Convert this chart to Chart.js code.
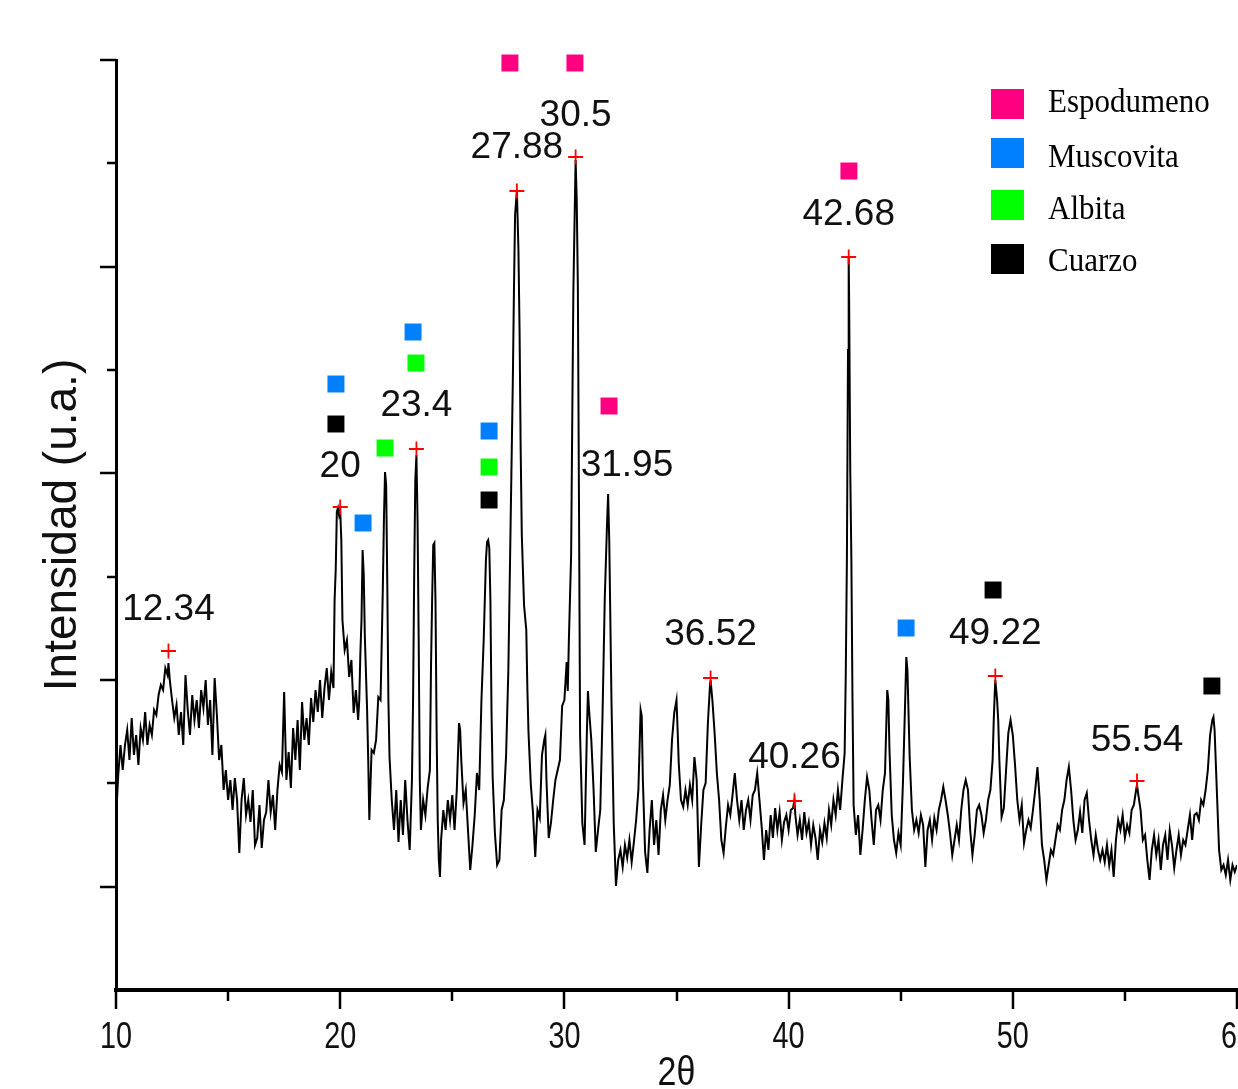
<!DOCTYPE html>
<html><head><meta charset="utf-8">
<script src="https://cdn.jsdelivr.net/npm/chart.js@4/dist/chart.umd.min.js"></script>
<style>
html,body{margin:0;padding:0;background:#fff;overflow:hidden;width:1238px;height:1089px}
#wrap{width:1300px;height:1089px}
canvas{display:block}
</style>
</head><body><div id="wrap"><canvas id="c" width="1300" height="1089"></canvas></div>
<script>
// ---- DATA ----
const twoTheta = [
10,10.1,10.2,10.3,10.4,10.5,10.6,10.7,10.8,10.9,
11,11.1,11.2,11.3,11.4,11.5,11.6,11.7,11.8,11.9,
12,12.1,12.2,12.3,12.34,12.4,12.5,12.6,12.7,12.8,12.9,
13,13.1,13.2,13.3,13.4,13.5,13.6,13.7,13.8,13.9,
14,14.1,14.2,14.3,14.4,14.5,14.6,14.7,14.8,14.9,
15,15.1,15.2,15.3,15.4,15.5,15.6,15.7,15.8,15.9,
16,16.1,16.2,16.3,16.4,16.5,16.6,16.7,16.8,16.9,
17,17.1,17.2,17.3,17.4,17.5,17.6,17.7,17.8,17.9,
18,18.1,18.2,18.3,18.4,18.5,18.6,18.7,18.8,18.9,
19,19.1,19.2,19.3,19.4,19.5,19.6,19.7,19.75,19.8,19.85,19.9,19.95,
20,20.05,20.1,20.2,20.3,20.4,20.5,20.6,20.7,20.8,20.85,20.9,20.95,
21,21.05,21.1,21.2,21.25,21.3,21.4,21.5,21.6,21.7,21.8,21.9,21.95,
22,22.05,22.1,22.15,22.2,22.3,22.4,22.5,22.6,22.7,22.8,22.9,
23,23.1,23.2,23.25,23.3,23.35,23.4,23.45,23.5,23.55,23.6,23.7,23.8,23.9,
24,24.05,24.1,24.15,24.2,24.25,24.3,24.35,24.4,24.45,24.5,24.6,24.7,24.8,24.9,
25,25.1,25.2,25.3,25.35,25.4,25.5,25.6,25.7,25.8,25.9,
26,26.1,26.2,26.3,26.4,26.5,26.55,26.6,26.65,26.7,26.75,26.8,26.9,
27,27.1,27.2,27.3,27.4,27.5,27.6,27.7,27.75,27.8,27.88,27.95,
28,28.05,28.1,28.2,28.3,28.35,28.4,28.5,28.6,28.7,28.8,28.9,
29,29.1,29.15,29.2,29.3,29.4,29.5,29.6,29.7,29.8,29.9,
30,30.1,30.15,30.2,30.3,30.35,30.4,30.5,30.55,30.6,30.65,30.7,30.8,30.9,
31,31.05,31.1,31.2,31.3,31.4,31.5,31.6,31.7,31.8,31.9,31.95,
32,32.1,32.2,32.3,32.4,32.5,32.6,32.7,32.8,32.9,
33,33.1,33.2,33.3,33.4,33.45,33.5,33.6,33.7,33.8,33.9,
34,34.1,34.2,34.3,34.4,34.5,34.6,34.7,34.8,34.9,
35,35.05,35.1,35.2,35.3,35.4,35.5,35.6,35.7,35.8,35.9,
36,36.1,36.2,36.3,36.4,36.5,36.52,36.6,36.7,36.8,36.9,
37,37.1,37.2,37.3,37.4,37.5,37.6,37.7,37.8,37.9,
38,38.1,38.2,38.3,38.4,38.5,38.6,38.7,38.8,38.9,
39,39.1,39.2,39.3,39.4,39.5,39.6,39.7,39.8,39.9,
40,40.1,40.2,40.26,40.3,40.4,40.5,40.6,40.7,40.8,40.9,
41,41.1,41.2,41.3,41.4,41.5,41.6,41.7,41.8,41.9,
42,42.1,42.2,42.3,42.4,42.5,42.55,42.6,42.65,42.68,42.7,42.75,42.8,42.85,42.9,
43,43.1,43.2,43.3,43.4,43.5,43.6,43.7,43.8,43.9,
44,44.1,44.2,44.3,44.4,44.45,44.5,44.6,44.7,44.8,44.9,
45,45.1,45.2,45.25,45.3,45.4,45.5,45.6,45.7,45.8,45.9,
46,46.1,46.2,46.3,46.4,46.5,46.6,46.7,46.8,46.9,
47,47.1,47.2,47.3,47.4,47.5,47.6,47.7,47.8,47.9,
48,48.1,48.2,48.3,48.4,48.5,48.6,48.7,48.8,48.9,
49,49.1,49.15,49.2,49.22,49.3,49.35,49.4,49.5,49.6,49.7,49.8,49.9,
50,50.1,50.2,50.3,50.4,50.5,50.6,50.7,50.8,50.9,
51,51.1,51.2,51.3,51.4,51.5,51.6,51.7,51.8,51.9,
52,52.1,52.2,52.3,52.4,52.5,52.6,52.7,52.8,52.9,
53,53.1,53.2,53.3,53.4,53.5,53.6,53.7,53.8,53.9,
54,54.1,54.2,54.3,54.4,54.5,54.6,54.7,54.8,54.9,
55,55.1,55.2,55.3,55.4,55.5,55.54,55.6,55.7,55.8,55.9,
56,56.1,56.2,56.3,56.4,56.5,56.6,56.7,56.8,56.9,
57,57.1,57.2,57.3,57.4,57.5,57.6,57.7,57.8,57.9,
58,58.1,58.2,58.3,58.4,58.5,58.6,58.7,58.8,58.9,58.95,
59,59.1,59.2,59.3,59.4,59.5,59.6,59.7,59.8,59.9,
60
];
const intensity = [
170,215,245,220,245,260,230,272,235,255,
225,262,250,278,245,265,255,280,275,295,
305,300,322,315,327,310,290,272,285,255,278,
245,315,280,255,295,270,290,262,300,282,
310,265,290,235,312,275,230,245,200,220,
190,210,180,212,190,137,190,212,175,190,
168,200,145,152,185,142,170,178,210,178,
195,160,200,225,218,298,210,238,202,262,
230,270,220,288,250,272,245,292,268,300,
278,310,272,302,322,290,318,302,390,420,478,482,475,
480,450,370,340,350,313,330,277,300,270,290,337,370,
440,415,353,280,230,170,240,237,250,293,290,400,470,
518,505,407,290,233,190,160,200,148,190,155,210,
170,140,210,290,415,510,535,470,353,210,160,190,175,202,
220,323,390,445,447,390,260,170,130,113,150,180,160,190,170,
195,160,200,267,260,230,187,200,160,120,145,
175,217,200,290,350,430,448,450,442,390,277,213,157,
125,130,180,190,235,320,465,610,700,775,800,740,
660,540,455,385,360,300,257,206,177,133,180,172,
235,250,255,210,152,167,190,210,220,230,284,
290,328,299,350,435,570,699,830,790,704,490,255,167,145,
255,299,280,250,201,138,160,180,274,391,465,496,
450,289,167,104,130,140,123,145,132,150,
128,148,170,200,280,274,210,138,117,160,190,
145,170,135,180,195,170,190,205,250,277,
290,260,227,190,183,200,185,205,190,233,210,
123,165,200,207,267,307,310,290,257,217,190,
150,137,163,185,175,195,217,190,170,190,
160,180,190,170,195,200,217,190,163,130,
160,140,175,152,182,160,178,150,168,175,
160,180,182,190,175,155,170,150,178,157,168,
145,165,152,130,160,148,167,152,180,165,
190,175,200,180,210,237,317,430,640,732,690,520,430,290,185,
155,175,135,160,190,213,200,170,145,180,
185,170,200,217,300,290,240,175,150,137,157,
145,207,290,333,320,233,180,160,170,157,175,
165,123,160,170,150,172,160,180,190,203,
190,175,157,135,150,165,150,180,200,210,
200,160,135,155,180,185,175,157,170,190,
200,230,270,300,310,290,270,230,173,182,220,257,270,
255,225,190,170,185,147,160,170,162,180,
200,223,190,145,130,110,125,140,135,150,
165,160,180,190,210,223,200,170,150,160,
178,157,190,197,170,150,135,155,140,130,
140,128,145,125,140,113,150,170,160,175,
152,165,157,180,185,200,205,195,180,150,155,
130,110,140,155,135,150,120,145,155,130,
160,145,122,140,155,135,150,145,160,175,
150,175,177,170,190,185,200,220,255,270,273,
260,200,140,120,125,115,130,110,125,118,
125
];

// axis ticks
const xTickLabels = [10, 20, 30, 40, 50, 60];
const xMinorTicks = [15, 25, 35, 45, 55];
const yMajorTicks = [103.33, 310, 516.67, 723.33, 930];
const yMinorTicks = [206.67, 413.33, 620, 826.67];
const xTitle = '2θ';

// peak annotations
const peakLabels = ['12.34','20','23.4','27.88','30.5','31.95','36.52','40.26','42.68','49.22','55.54'];
const peakLabelX = [12.34, 20, 23.4, 27.88, 30.5, 32.79, 36.52, 40.26, 42.68, 49.22, 55.54];
const peakLabelY = [380, 523, 584, 842, 874, 524, 355, 232, 775, 356, 249];
const crossX = [12.34, 20, 23.4, 27.88, 30.5, 36.52, 40.26, 42.68, 49.22, 55.54];
const crossY = [339, 483, 541, 799, 833, 312, 189, 733, 314, 209];

// phases
const phaseNames = ['Espodumeno', 'Muscovita', 'Albita', 'Cuarzo'];
const phaseColors = ['#FF0080', '#0080FF', '#00FF00', '#000000'];
const espX = [27.57, 30.47, 31.99, 42.69];
const espY = [927, 927, 584, 819];
const musX = [19.81, 21.02, 23.25, 26.64, 45.24];
const musY = [606, 467, 658, 559, 362];
const albX = [22.0, 23.38, 26.64];
const albY = [542, 627, 523];
const cuaX = [19.81, 26.64, 49.12, 58.88];
const cuaY = [566, 490, 400, 304];

// ---- CHART ----
const pts = (xs, ys) => xs.map((x, i) => ({x: x, y: ys[i]}));
const phaseSets = [[espX, espY], [musX, musY], [albX, albY], [cuaX, cuaY]];

function condensedText(ctx, t, px, py, sx, sy) {
  ctx.save();
  ctx.translate(px, py);
  ctx.scale(sx, sy);
  ctx.fillText(t, 0, 0);
  ctx.restore();
}

const annot = {
  id: 'annot',
  afterDraw(chart) {
    const {ctx, scales: {x, y}} = chart;
    ctx.save();
    ctx.strokeStyle = '#000';
    ctx.lineWidth = 2.5;
    ctx.beginPath();
    xTickLabels.forEach(v => { const p = Math.round(x.getPixelForValue(v)); ctx.moveTo(p, y.bottom); ctx.lineTo(p, y.bottom + 19); });
    xMinorTicks.forEach(v => { const p = Math.round(x.getPixelForValue(v)); ctx.moveTo(p, y.bottom); ctx.lineTo(p, y.bottom + 11); });
    yMajorTicks.forEach(v => { const p = Math.round(y.getPixelForValue(v)); ctx.moveTo(x.left - 16, p); ctx.lineTo(x.left, p); });
    yMinorTicks.forEach(v => { const p = Math.round(y.getPixelForValue(v)); ctx.moveTo(x.left - 9, p); ctx.lineTo(x.left, p); });
    ctx.stroke();

    // x tick labels (condensed) and axis title
    ctx.fillStyle = '#111';
    ctx.textAlign = 'center';
    ctx.textBaseline = 'middle';
    ctx.font = '36px "Liberation Sans", Arial, sans-serif';
    xTickLabels.forEach(v => condensedText(ctx, String(v), x.getPixelForValue(v), y.bottom + 48, 0.8, 1.04));
    ctx.font = '40px "Liberation Sans", Arial, sans-serif';
    condensedText(ctx, xTitle, (x.left + x.right) / 2, y.bottom + 84, 0.85, 1.0);

    // peak labels
    ctx.font = '37px "Liberation Sans", Arial, sans-serif';
    peakLabels.forEach((t, i) => {
      ctx.fillText(t, x.getPixelForValue(peakLabelX[i]), y.getPixelForValue(peakLabelY[i]));
    });

    // legend
    const sqY = [104, 153, 205, 259];
    const txY = [103, 158, 210, 262];
    phaseNames.forEach((n, i) => {
      ctx.fillStyle = phaseColors[i];
      ctx.fillRect(991, sqY[i] - 15, 33, 30);
      ctx.fillStyle = '#000';
      ctx.font = '31px "Liberation Serif", "Times New Roman", serif';
      ctx.textAlign = 'left';
      ctx.textBaseline = 'middle';
      condensedText(ctx, n, 1048, txY[i], 1, 1.12);
    });
    ctx.restore();
  }
};

new Chart(document.getElementById('c'), {
  type: 'scatter',
  data: {
    datasets: [
      {label: 'DRX', data: pts(twoTheta, intensity), showLine: true, borderColor: '#000', borderWidth: 2,
       pointRadius: 0, tension: 0, order: 10},
      {label: 'Picos', data: pts(crossX, crossY), pointStyle: 'cross', pointRadius: 7.5, borderColor: '#ff0000',
       borderWidth: 1.8, showLine: false, clip: false, order: 1},
      ...phaseSets.map((s, i) => ({
        label: phaseNames[i], data: pts(s[0], s[1]), pointStyle: 'rect', pointRadius: 12,
        backgroundColor: phaseColors[i], borderWidth: 0, showLine: false, clip: false, order: 0
      }))
    ]
  },
  options: {
    responsive: false, animation: false, devicePixelRatio: 1,
    layout: {padding: {left: 0, top: 60, right: 63, bottom: 0}},
    plugins: {legend: {display: false}, tooltip: {enabled: false}},
    scales: {
      x: {
        type: 'linear', min: 10, max: 60,
        afterFit(s) { s.height = 99; },
        afterBuildTicks(s) { s.ticks = xTickLabels.map(v => ({value: v})); },
        grid: {display: false, drawTicks: false},
        border: {display: true, color: '#000', width: 4},
        ticks: {display: false},
        title: {display: false}
      },
      y: {
        min: 0, max: 930,
        afterFit(s) { s.width = 116; },
        ticks: {display: false},
        grid: {display: false, drawTicks: false},
        border: {display: true, color: '#000', width: 3},
        title: {display: true, text: 'Intensidad (u.a.)', color: '#111', padding: {top: 40, bottom: 0},
          font: {family: '"Liberation Sans", Arial, sans-serif', size: 46, lineHeight: 1}}
      }
    }
  },
  plugins: [annot]
});
</script>
</body></html>
